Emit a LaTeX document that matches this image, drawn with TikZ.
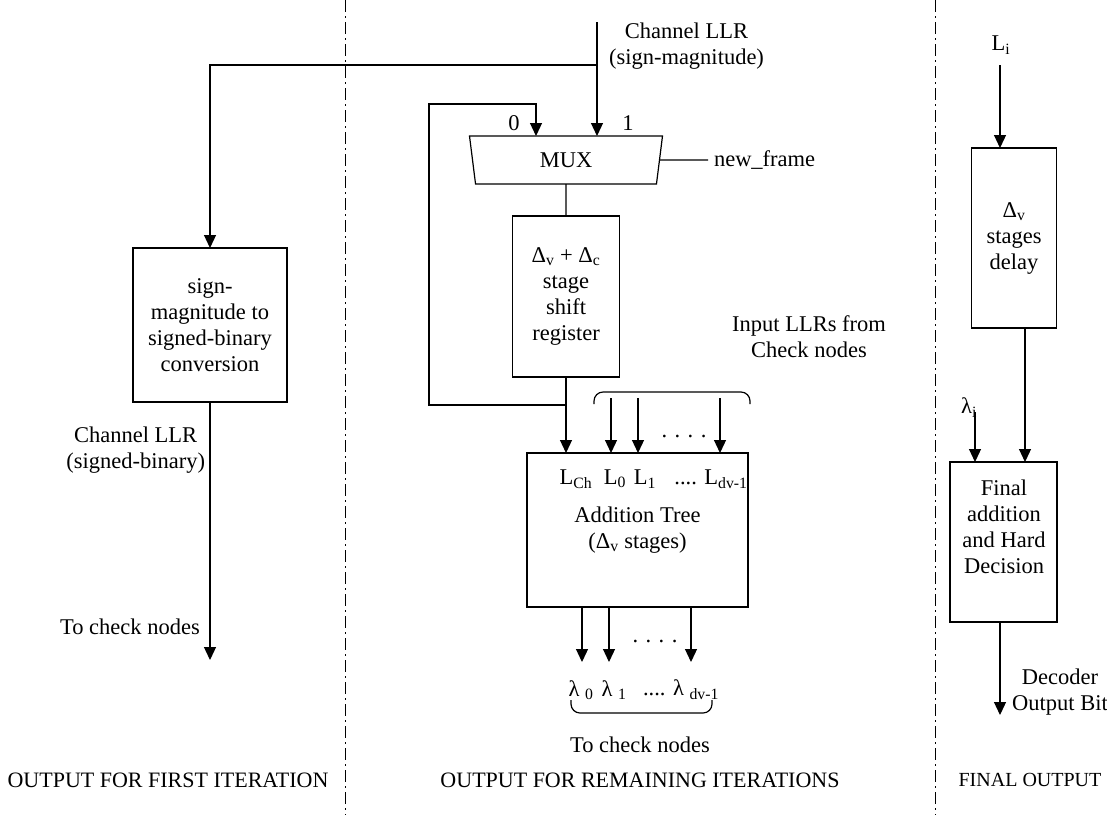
\documentclass[tikz,border=0pt]{standalone}
\usepackage{fontspec}
\setmainfont{Liberation Serif}
\usetikzlibrary{positioning, arrows.meta, shapes.geometric}

\begin{document}
\begin{tikzpicture}[x=1pt, y=-1pt,
  every node/.style={inner sep=0pt, outer sep=0pt, align=center,
                     font=\fontsize{22.5}{26}\selectfont},
  block/.style={draw, line width=1.2pt},
  mux/.style={draw, line width=1.2pt, trapezium, trapezium angle=68,
              trapezium stretches body, shape border rotate=180,
              minimum width=193pt, minimum height=48pt},
  caption/.style={font=\fontsize{22}{26}\selectfont},
  wire/.style={line width=1.2pt},
  arrow/.style={wire, -{Triangle[width=12pt, length=13pt]}},
  sep/.style={line width=1pt, dash pattern=on 12pt off 4pt on 2pt off 4pt}]
\useasboundingbox (0,0) rectangle (1107,815);
\draw[sep] (345,0) -- (345,815);
\draw[sep] (935,0) -- (935,815);

% middle column
\node[mux] (mux) at (566,160) {MUX};
\node (sel0) at (514,123) {0};
\node (sel1) at (628,123) {1};
\node[anchor=west] (nf) at (714,160) {new\_frame};
\draw[wire, shorten >=6pt] (mux.east) -- (nf.west);
\node[anchor=west] (chllr) at (609,46) {Channel LLR\\(sign-magnitude)};
\node[block, minimum width=107pt, minimum height=161pt] (shreg) at (566,296.5)
  {Δ\textsubscript{v} + Δ\textsubscript{c}\\stage\\shift\\register};
\node[block, minimum width=221pt, minimum height=154pt] (adder) at (637.5,530)
  {Addition Tree\\(Δ\textsubscript{v} stages)};
\node (lch) at (576,479) {L\textsubscript{Ch}};
\node (l0) at (615,479) {L\textsubscript{0}};
\node (l1) at (645,479) {L\textsubscript{1}};
\node (ldv) at (711,479) {.... L\textsubscript{dv-1}};

\coordinate (chin) at (597,22);
\coordinate (split) at (597,65);
\coordinate (loop) at (429,104);
\coordinate (in0) at (536,104);
\coordinate (fb) at (566,405);
\draw[arrow] (chin) -- (chin |- mux.north);
\draw[wire] (mux.south) -- (shreg.north);
\draw[arrow] (shreg.south) -- (shreg.south |- adder.north);
\draw[arrow] (fb) -| (loop) -- (in0) -- (in0 |- mux.north);

\node (llrin) at (809,337) {Input LLRs from\\Check nodes};
\draw[wire, rounded corners=9pt] (594,404) |- (672,392) -| (750,404);
\foreach \x [count=\i] in {611,638,720} {
  \coordinate (cn\i) at (\x,398);
  \draw[arrow] (cn\i) -- (cn\i |- adder.north);
}
\node (dots1) at (684,436) {. . . .};

\foreach \x [count=\i] in {582,609,691} {
  \coordinate (lo\i) at (\x,662);
  \draw[arrow] (lo\i |- adder.south) -- (lo\i);
}
\node (dots2) at (655,641) {. . . .};
\node (lam0) at (581,690) {λ \textsubscript{0}};
\node (lam1) at (614,690) {λ \textsubscript{1}};
\node (lamdv) at (681,690) {.... λ \textsubscript{dv-1}};
\draw[wire, rounded corners=9pt] (571,700) |- (641,713) -| (712,700);
\node (tocn2) at (640,745) {To check nodes};

% first iteration
\node[block, minimum width=154pt, minimum height=154pt] (conv) at (210,325)
  {sign-\\magnitude to\\signed-binary\\conversion};
\draw[arrow] (split) -| (conv.north);
\node[anchor=east] (chsb) at (205,450) {Channel LLR\\(signed-binary)};
\coordinate (cnout) at (210,660);
\draw[arrow] (conv.south) -- (cnout);
\node (tocn1) at (130,627) {To check nodes};

% final output
\node (li) at (1001,45) {L\textsubscript{i}};
\coordinate (lin) at (1000,65);
\node[block, minimum width=85pt, minimum height=180pt] (delay) at (1014,238)
  {Δ\textsubscript{v}\\stages\\delay};
\draw[arrow] (lin) -- (lin |- delay.north);
\node[block, minimum width=107pt, minimum height=160pt] (final) at (1003.5,542) {};
\node (finaltxt) at (1004,527) {Final\\addition\\and Hard\\Decision};
\coordinate (dly) at (1025,0);
\draw[arrow] (delay.south -| dly) -- (final.north -| dly);
\coordinate (lamtop) at (975,412);
\node[anchor=south east] (lami) at (977,417) {λ\textsubscript{i}};
\draw[arrow] (lamtop) -- (lamtop |- final.north);
\coordinate (dout) at (1000,715);
\draw[arrow] (final.south -| dout) -- (dout);
\node (decout) at (1060,692) {Decoder\\Output Bit};

\node[caption] (out1) at (168,780) {OUTPUT FOR FIRST ITERATION};
\node[caption] (out2) at (640,780) {OUTPUT FOR REMAINING ITERATIONS};
\node[caption, font=\fontsize{20}{24}\selectfont] (out3) at (1030,780) {FINAL OUTPUT};
\end{tikzpicture}
\end{document}
